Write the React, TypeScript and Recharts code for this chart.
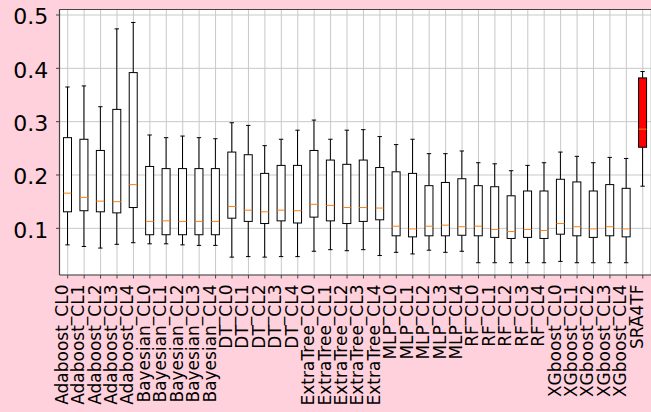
import { Bar, CartesianGrid, ComposedChart, ReferenceLine, XAxis, YAxis } from "recharts";

const LABELS = [
  "Adaboost_CL0", "Adaboost_CL1", "Adaboost_CL2", "Adaboost_CL3", "Adaboost_CL4",
  "Bayesian_CL0", "Bayesian_CL1", "Bayesian_CL2", "Bayesian_CL3", "Bayesian_CL4",
  "DT_CL0", "DT_CL1", "DT_CL2", "DT_CL3", "DT_CL4",
  "ExtraTree_CL0", "ExtraTree_CL1", "ExtraTree_CL2", "ExtraTree_CL3", "ExtraTree_CL4",
  "MLP_CL0", "MLP_CL1", "MLP_CL2", "MLP_CL3", "MLP_CL4",
  "RF_CL0", "RF_CL1", "RF_CL2", "RF_CL3", "RF_CL4",
  "XGboost_CL0", "XGboost_CL1", "XGboost_CL2", "XGboost_CL3", "XGboost_CL4",
  "SRA4TF",
];

// whisker ends, quartiles and medians
const LOW = [
  0.069, 0.066, 0.063, 0.07, 0.073,
  0.071, 0.071, 0.069, 0.068, 0.068,
  0.046, 0.047, 0.046, 0.047, 0.047,
  0.057, 0.06, 0.058, 0.06, 0.049,
  0.055, 0.052, 0.059, 0.055, 0.057,
  0.0355, 0.0355, 0.0355, 0.0355, 0.0355,
  0.038, 0.0355, 0.0355, 0.0355, 0.0355,
  0.179,
];
const Q1 = [
  0.131, 0.133, 0.131, 0.129, 0.139,
  0.088, 0.088, 0.088, 0.088, 0.088,
  0.119, 0.113, 0.109, 0.114, 0.11,
  0.121, 0.114, 0.109, 0.113, 0.116,
  0.086, 0.084, 0.086, 0.086, 0.087,
  0.086, 0.083, 0.081, 0.083, 0.081,
  0.089, 0.086, 0.083, 0.086, 0.084,
  0.252,
];
const MEDIAN = [
  0.166, 0.158, 0.151, 0.15, 0.182,
  0.113, 0.114, 0.113, 0.113, 0.113,
  0.141, 0.134, 0.131, 0.134, 0.133,
  0.145, 0.143, 0.139, 0.139, 0.138,
  0.104, 0.099, 0.104, 0.106, 0.103,
  0.104, 0.098, 0.094, 0.098, 0.096,
  0.109, 0.103, 0.099, 0.103, 0.099,
  0.286,
];
const Q3 = [
  0.27, 0.267, 0.246, 0.323, 0.392,
  0.216, 0.212, 0.212, 0.212, 0.212,
  0.243, 0.238, 0.203, 0.218, 0.218,
  0.246, 0.228, 0.22, 0.228, 0.214,
  0.206, 0.203, 0.18, 0.186, 0.193,
  0.18, 0.178, 0.161, 0.17, 0.17,
  0.192, 0.187, 0.17, 0.182, 0.175,
  0.382,
];
const HIGH = [
  0.365, 0.367, 0.328, 0.474, 0.486,
  0.275, 0.27, 0.273, 0.27, 0.268,
  0.298, 0.293, 0.255, 0.267, 0.284,
  0.303, 0.267, 0.284, 0.285, 0.272,
  0.257, 0.267, 0.24, 0.24, 0.245,
  0.223, 0.221, 0.208, 0.218, 0.223,
  0.243, 0.235, 0.223, 0.233, 0.231,
  0.394,
];

const Y_TICKS = [0.1, 0.2, 0.3, 0.4, 0.5];
const Y_MIN = 0.0125;
const Y_MAX = 0.5103;

const FONT = "DejaVu Sans";
const PINK = "#ffd1dc";

const data = LABELS.map((name, i) => ({
  name,
  range: [LOW[i], HIGH[i]],
  low: LOW[i],
  q1: Q1[i],
  med: MEDIAN[i],
  q3: Q3[i],
  high: HIGH[i],
  fill: name === "SRA4TF" ? "#ff0000" : "#ffffff",
}));

// the bar spans low..high, so its rect gives the y scale for the other stats
function BoxShape(props: any) {
  const { x, y, width, height, payload } = props;
  if (x == null || y == null || !payload) return <g />;
  const top = Math.min(y, y + height);
  const bottom = Math.max(y, y + height);
  const span = payload.high - payload.low;
  const py = (v: number) => bottom - ((v - payload.low) / span) * (bottom - top);
  const cx = x + width / 2;
  const cap = width * 0.55;
  return (
    <g>
      <line x1={cx} x2={cx} y1={py(payload.high)} y2={py(payload.q3)} stroke="#000" strokeWidth={1} />
      <line x1={cx} x2={cx} y1={py(payload.q1)} y2={py(payload.low)} stroke="#000" strokeWidth={1} />
      <line x1={cx - cap / 2} x2={cx + cap / 2} y1={py(payload.high)} y2={py(payload.high)} stroke="#000" strokeWidth={1} />
      <line x1={cx - cap / 2} x2={cx + cap / 2} y1={py(payload.low)} y2={py(payload.low)} stroke="#000" strokeWidth={1} />
      <rect
        x={x}
        y={py(payload.q3)}
        width={width}
        height={py(payload.q1) - py(payload.q3)}
        fill={payload.fill}
        stroke="#000"
        strokeWidth={1}
      />
      <line x1={x} x2={x + width} y1={py(payload.med)} y2={py(payload.med)} stroke="#ff7f0e" strokeWidth={1} />
    </g>
  );
}

function XTick(props: any) {
  const { x, y, payload } = props;
  return (
    <g transform={`translate(${x},${y})`}>
      <text transform="rotate(-90)" textAnchor="end" x={0} y={0} dy={0} fontFamily={FONT} fontSize={17} fill="#000">
        {payload.value}
      </text>
    </g>
  );
}

function YTick(props: any) {
  const { x, y, payload } = props;
  return (
    <text x={x} y={y + 9.3} textAnchor="end" fontFamily={FONT} fontSize={22} fill="#000">
      {payload.value.toFixed(1)}
    </text>
  );
}

export default function App() {
  return (
    <div style={{ width: 651, height: 412, background: PINK, overflow: "hidden" }}>
      <style>{"body{margin:0}"}</style>
      <ComposedChart
        width={651}
        height={412}
        data={data}
        margin={{ top: 9.5, right: 0, bottom: 0, left: 0 }}
      >
        <CartesianGrid stroke="#c8c8c8" strokeWidth={1} fill="#ffffff" />
        <XAxis
          dataKey="name"
          interval={0}
          height={137}
          tickSize={3.5}
          tickMargin={6}
          tick={<XTick />}
          axisLine={{ stroke: "#444", strokeWidth: 1.2 }}
          tickLine={{ stroke: "#444" }}
        />
        <YAxis
          type="number"
          domain={[Y_MIN, Y_MAX]}
          ticks={Y_TICKS}
          allowDataOverflow
          width={59.5}
          tickSize={3.5}
          tickMargin={7.7}
          tick={<YTick />}
          axisLine={{ stroke: "#444", strokeWidth: 1.2 }}
          tickLine={{ stroke: "#444" }}
        />
        <ReferenceLine y={Y_MAX} stroke="#444" strokeWidth={1.2} />
        <Bar dataKey="range" barSize={8} shape={<BoxShape />} isAnimationActive={false} />
      </ComposedChart>
    </div>
  );
}
